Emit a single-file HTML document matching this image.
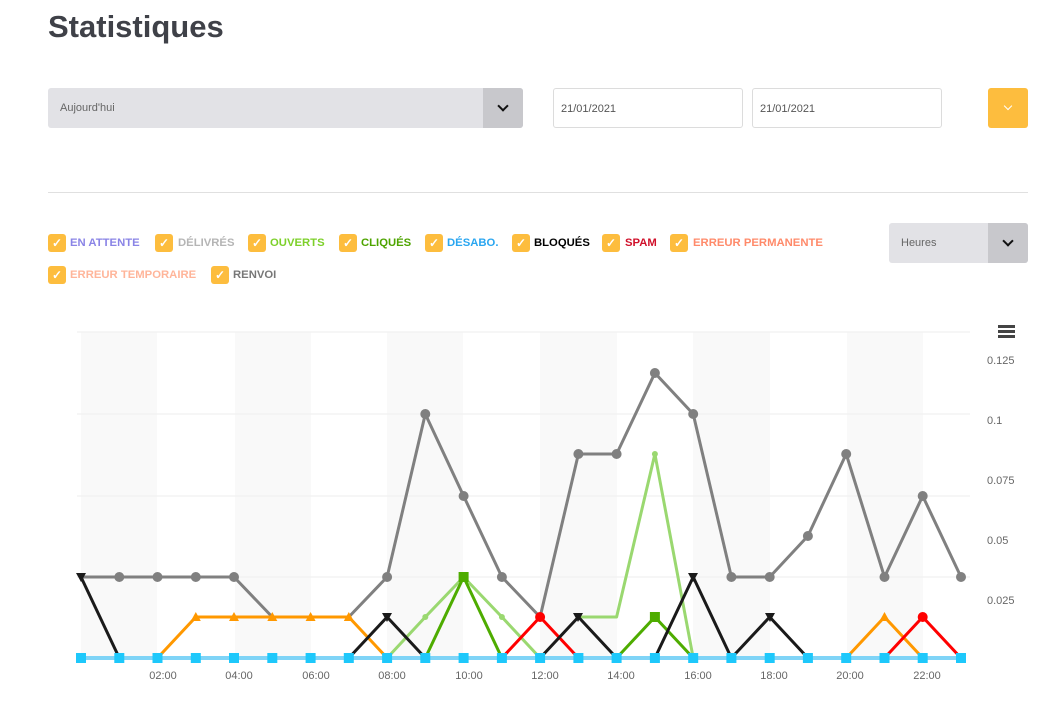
<!DOCTYPE html>
<html><head><meta charset="utf-8"><style>
body{margin:0;width:1059px;height:702px;background:#fff;font-family:"Liberation Sans",sans-serif;position:relative;overflow:hidden}
.a{position:absolute}
h1{position:absolute;left:48px;top:9px;margin:0;font-size:31px;font-weight:bold;color:#3f4148}
.sel{background:#e2e2e6;border-radius:3px}
.btn{background:#c8c8cc;border-radius:0 3px 3px 0}
.chev{position:absolute;width:6px;height:6px;border-right:2px solid #111;border-bottom:2px solid #111;transform:rotate(45deg)}
.inp{border:1px solid #dcdcdc;border-radius:3px;box-sizing:border-box;font-size:11px;color:#555;padding:14px 0 0 7px}
.cb{position:absolute;width:18px;height:18px;background:#fdbd3e;border-radius:3px;color:#fff;font-size:12px;text-align:center;line-height:18px;font-weight:bold}
.lb{position:absolute;font-size:11.3px;font-weight:bold;white-space:nowrap}
.ax{font-size:11px;fill:#666;font-family:"Liberation Sans",sans-serif}
</style></head><body>
<h1>Statistiques</h1>
<div class="a sel" style="left:48px;top:88px;width:475px;height:40px"></div>
<div class="a" style="left:60px;top:102px;font-size:11px;color:#666">Aujourd'hui</div>
<div class="a btn" style="left:483px;top:88px;width:40px;height:40px"><div class="chev" style="left:16px;top:14px"></div></div>
<div class="a inp" style="left:553px;top:88px;width:190px;height:40px">21/01/2021</div>
<div class="a inp" style="left:752px;top:88px;width:190px;height:40px">21/01/2021</div>
<div class="a" style="left:988px;top:88px;width:40px;height:40px;background:#fdbd3e;border-radius:3px"><div class="chev" style="left:17px;top:15px;width:5px;height:5px;border-color:#fff;border-width:1.5px"></div></div>
<div class="a" style="left:48px;top:192px;width:980px;height:1px;background:#e0e0e0"></div>

<div class="cb" style="left:48px;top:234px">✓</div><div class="lb" style="left:70px;top:237px;color:#8a84e6">EN ATTENTE</div>
<div class="cb" style="left:155px;top:234px">✓</div><div class="lb" style="left:178px;top:237px;color:#b5b5b5">DÉLIVRÉS</div>
<div class="cb" style="left:248px;top:234px">✓</div><div class="lb" style="left:270px;top:237px;color:#7dd02a">OUVERTS</div>
<div class="cb" style="left:339px;top:234px">✓</div><div class="lb" style="left:361px;top:237px;color:#4ea400">CLIQUÉS</div>
<div class="cb" style="left:425px;top:234px">✓</div><div class="lb" style="left:447px;top:237px;color:#2aa6f0">DÉSABO.</div>
<div class="cb" style="left:512px;top:234px">✓</div><div class="lb" style="left:534px;top:237px;color:#000">BLOQUÉS</div>
<div class="cb" style="left:602px;top:234px">✓</div><div class="lb" style="left:625px;top:237px;color:#d0102a">SPAM</div>
<div class="cb" style="left:670px;top:234px">✓</div><div class="lb" style="left:693px;top:237px;color:#ff8a6a">ERREUR PERMANENTE</div>
<div class="cb" style="left:48px;top:266px">✓</div><div class="lb" style="left:70px;top:269px;color:#ffb59a">ERREUR TEMPORAIRE</div>
<div class="cb" style="left:211px;top:266px">✓</div><div class="lb" style="left:233px;top:269px;color:#777">RENVOI</div>

<div class="a sel" style="left:889px;top:223px;width:139px;height:40px"></div>
<div class="a" style="left:901px;top:237px;font-size:11px;color:#666">Heures</div>
<div class="a btn" style="left:988px;top:223px;width:40px;height:40px"><div class="chev" style="left:16px;top:14px"></div></div>

<svg class="a" style="left:0;top:0" width="1059" height="702">
<g fill="#f9f9f9">
<rect x="81" y="332" width="76" height="326"/><rect x="235" y="332" width="76" height="326"/><rect x="387" y="332" width="76" height="326"/><rect x="540" y="332" width="77" height="326"/><rect x="693" y="332" width="77" height="326"/><rect x="847" y="332" width="76" height="326"/>
</g>
<g stroke="#eeeeee" stroke-width="1">
<line x1="77" y1="332" x2="970" y2="332"/><line x1="77" y1="414" x2="970" y2="414"/><line x1="77" y1="496" x2="970" y2="496"/><line x1="77" y1="577" x2="970" y2="577"/>
</g>
<g fill="#444"><rect x="998" y="325" width="17" height="3"/><rect x="998" y="330" width="17" height="3"/><rect x="998" y="335" width="17" height="3"/></g>
<g class="ax"><text x="987" y="364">0.125</text><text x="987" y="424">0.1</text><text x="987" y="484">0.075</text><text x="987" y="544">0.05</text><text x="987" y="604">0.025</text>
<g text-anchor="middle"><text x="163" y="679">02:00</text><text x="239" y="679">04:00</text><text x="316" y="679">06:00</text><text x="392" y="679">08:00</text><text x="469" y="679">10:00</text><text x="545" y="679">12:00</text><text x="621" y="679">14:00</text><text x="698" y="679">16:00</text><text x="774" y="679">18:00</text><text x="850" y="679">20:00</text><text x="927" y="679">22:00</text></g></g>
<g fill="none" stroke-width="3" stroke-linejoin="round">
<polyline stroke="#808080" points="81,577 119.3,577 157.5,577 195.8,577 234,577 272.3,617 310.6,617 348.8,617 387.1,577 425.3,414 463.6,496 501.9,577 540.1,617 578.4,454 616.6,454 654.9,373 693.2,414 731.4,577 769.7,577 807.9,536 846.2,454 884.5,577 922.7,496 961,577"/>
<polyline stroke="#ff9800" points="157.5,658 195.8,617 234,617 272.3,617 310.6,617 348.8,617 387.1,658"/>
<polyline stroke="#ff9800" points="846.2,658 884.5,617 922.7,658"/>
<polyline stroke="#9ad870" points="387.1,658 425.3,617 463.6,577 501.9,617 540.1,658"/>
<polyline stroke="#9ad870" points="578.4,617 616.6,617 654.9,454 693.2,658"/>
<polyline stroke="#4eac00" points="425.3,658 463.6,577 501.9,658"/>
<polyline stroke="#4eac00" points="616.6,658 654.9,617 693.2,658"/>
<polyline stroke="#ff0000" points="501.9,658 540.1,617 578.4,658"/>
<polyline stroke="#ff0000" points="884.5,658 922.7,617 961,658"/>
<polyline stroke="#1a1a1a" points="81,577 119.3,658"/>
<polyline stroke="#1a1a1a" points="348.8,658 387.1,617 425.3,658"/>
<polyline stroke="#1a1a1a" points="540.1,658 578.4,617 616.6,658"/>
<polyline stroke="#1a1a1a" points="654.9,658 693.2,577 731.4,658 769.7,617 807.9,658"/>
<line x1="81" y1="658" x2="961" y2="658" stroke="#7fd4f7" stroke-width="4"/>
</g>
<g fill="#808080">
<circle cx="119.3" cy="577" r="5"/><circle cx="157.5" cy="577" r="5"/><circle cx="195.8" cy="577" r="5"/><circle cx="234" cy="577" r="5"/><circle cx="387.1" cy="577" r="5"/><circle cx="425.3" cy="414" r="5"/><circle cx="463.6" cy="496" r="5"/><circle cx="501.9" cy="577" r="5"/><circle cx="578.4" cy="454" r="5"/><circle cx="616.6" cy="454" r="5"/><circle cx="654.9" cy="373" r="5"/><circle cx="693.2" cy="414" r="5"/><circle cx="731.4" cy="577" r="5"/><circle cx="769.7" cy="577" r="5"/><circle cx="807.9" cy="536" r="5"/><circle cx="846.2" cy="454" r="5"/><circle cx="884.5" cy="577" r="5"/><circle cx="922.7" cy="496" r="5"/><circle cx="961" cy="577" r="5"/>
</g>
<g fill="#ff9800"><path d="M195.8,612l5,9h-10z"/><path d="M234,612l5,9h-10z"/><path d="M272.3,612l5,9h-10z"/><path d="M310.6,612l5,9h-10z"/><path d="M348.8,612l5,9h-10z"/><path d="M884.5,612l5,9h-10z"/></g>
<g fill="#1a1a1a"><path d="M76,573h10l-5,9z"/><path d="M382,613h10l-5,9z"/><path d="M573,613h10l-5,9z"/><path d="M688,573h10l-5,9z"/><path d="M765,613h10l-5,9z"/></g>
<g fill="#4eac00"><rect x="458.6" y="572" width="10" height="10"/><rect x="649.9" y="612" width="10" height="10"/></g>
<g fill="#ff0000"><circle cx="540.1" cy="617" r="5"/><circle cx="922.7" cy="617" r="5"/></g>
<g fill="#9ad870"><circle cx="654.9" cy="454" r="3"/><circle cx="425.3" cy="617" r="3"/><circle cx="501.9" cy="617" r="3"/></g>
<g fill="#1ec8fb">
<rect x="76" y="653" width="10" height="10"/><rect x="114.3" y="653" width="10" height="10"/><rect x="152.5" y="653" width="10" height="10"/><rect x="190.8" y="653" width="10" height="10"/><rect x="229" y="653" width="10" height="10"/><rect x="267.3" y="653" width="10" height="10"/><rect x="305.6" y="653" width="10" height="10"/><rect x="343.8" y="653" width="10" height="10"/><rect x="382.1" y="653" width="10" height="10"/><rect x="420.3" y="653" width="10" height="10"/><rect x="458.6" y="653" width="10" height="10"/><rect x="496.9" y="653" width="10" height="10"/><rect x="535.1" y="653" width="10" height="10"/><rect x="573.4" y="653" width="10" height="10"/><rect x="611.6" y="653" width="10" height="10"/><rect x="649.9" y="653" width="10" height="10"/><rect x="688.2" y="653" width="10" height="10"/><rect x="726.4" y="653" width="10" height="10"/><rect x="764.7" y="653" width="10" height="10"/><rect x="802.9" y="653" width="10" height="10"/><rect x="841.2" y="653" width="10" height="10"/><rect x="879.5" y="653" width="10" height="10"/><rect x="917.7" y="653" width="10" height="10"/><rect x="956" y="653" width="10" height="10"/>
</g>
</svg>
</body></html>
